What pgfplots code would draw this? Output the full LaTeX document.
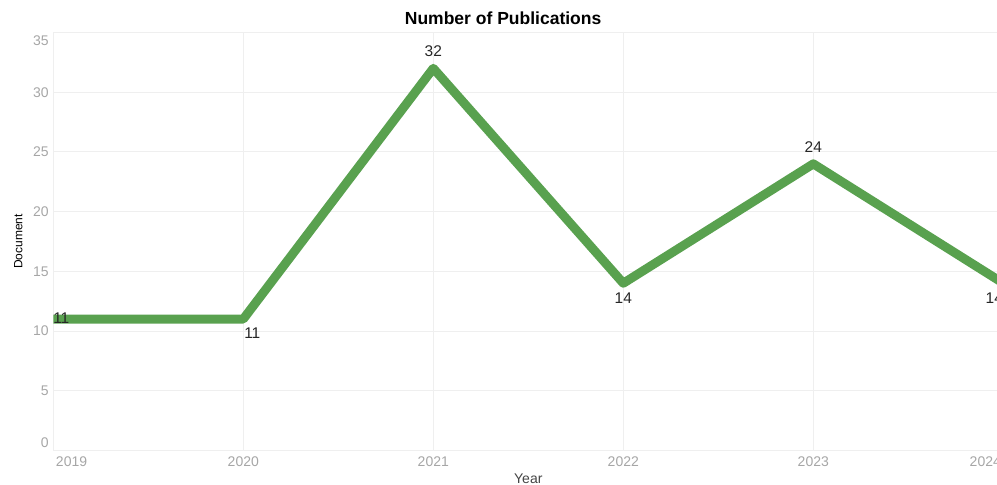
\documentclass[border=0pt]{standalone}
\usepackage{pgfplots}
\pgfplotsset{compat=1.18}
\usepackage{fontspec}
\setmainfont{Liberation Sans}
\definecolor{lgreen}{HTML}{59A14F}
\definecolor{tickgray}{HTML}{A6A6A6}
\definecolor{gridgray}{HTML}{EFEFEF}
\definecolor{labdark}{HTML}{444444}
\begin{document}
\begin{tikzpicture}[x=1pt,y=1pt]
\begin{axis}[
  at={(0,0)}, anchor=south west,
  scale only axis, width=950pt, height=417.9pt,
  xmin=2019, xmax=2024, ymin=0, ymax=35,
  axis line style={draw=none},
  major tick length=0pt,
  grid=major,
  grid style={color=gridgray, line width=0.9pt},
  /pgf/number format/assume math mode=true,
  xtick={2019,2020,2021,2022,2023,2024},
  xticklabels={\hspace*{36.5pt}2019,2020,2021,2022,2023,2024\hspace*{36pt}},
  ytick={0,5,10,15,20,25,30,35},
  yticklabels={\raisebox{8pt}[\height][\depth]{0},5,10,15,20,25,30,\raisebox{-8.5pt}[\height][\depth]{35}},
  x tick label style={yshift=-3pt},
  y tick label style={xshift=-1pt},
  tick label style={font=\fontsize{14}{14}\selectfont, text=tickgray},
  title={Number of Publications},
  title style={at={(axis description cs:0.4735,1)}, anchor=center, yshift=8pt,
    font=\bfseries\fontsize{17.5}{17.5}\selectfont, text=black},
  xlabel={Year},
  xlabel style={at={(axis description cs:0.5,0)}, anchor=center, yshift=-28pt,
    font=\fontsize{14}{14}\selectfont, text=labdark},
  ylabel={Document},
  ylabel style={at={(axis description cs:0,0.5)}, anchor=center, yshift=35pt,
    font=\fontsize{12}{12}\selectfont, text=black},
  clip=true,
]
\addplot[lgreen, line width=9pt, line join=round] coordinates {
  (2019,11) (2020,11) (2021,32) (2022,14) (2023,24) (2024,14)};
% labels above
\addplot[draw=none, nodes near coords, point meta=y,
  nodes near coords style={anchor=center, yshift=17pt, font=\fontsize{15.5}{15.5}\selectfont, text=black!85}]
  coordinates {(2021,32) (2023,24)};
% labels below
\addplot[draw=none, nodes near coords, point meta=y,
  nodes near coords style={anchor=center, yshift=-14.5pt, font=\fontsize{15.5}{15.5}\selectfont, text=black!85}]
  coordinates {(2022,14)};
\addplot[draw=none, nodes near coords, point meta=y,
  nodes near coords style={anchor=center, xshift=-9pt, yshift=-14.5pt, font=\fontsize{15.5}{15.5}\selectfont, text=black!85}]
  coordinates {(2024,14)};
\addplot[draw=none, nodes near coords, point meta=y,
  nodes near coords style={anchor=center, xshift=9pt, yshift=-14pt, font=\fontsize{15.5}{15.5}\selectfont, text=black!85}]
  coordinates {(2020,11)};
\addplot[draw=none, nodes near coords, point meta=y,
  nodes near coords style={anchor=center, xshift=8pt, yshift=1pt, font=\fontsize{15.5}{15.5}\selectfont, text=black!85}]
  coordinates {(2019,11)};
\end{axis}
\pgfresetboundingbox
\useasboundingbox (-53.3,-34.6) rectangle (943.7,450.4);
\end{tikzpicture}
\end{document}
